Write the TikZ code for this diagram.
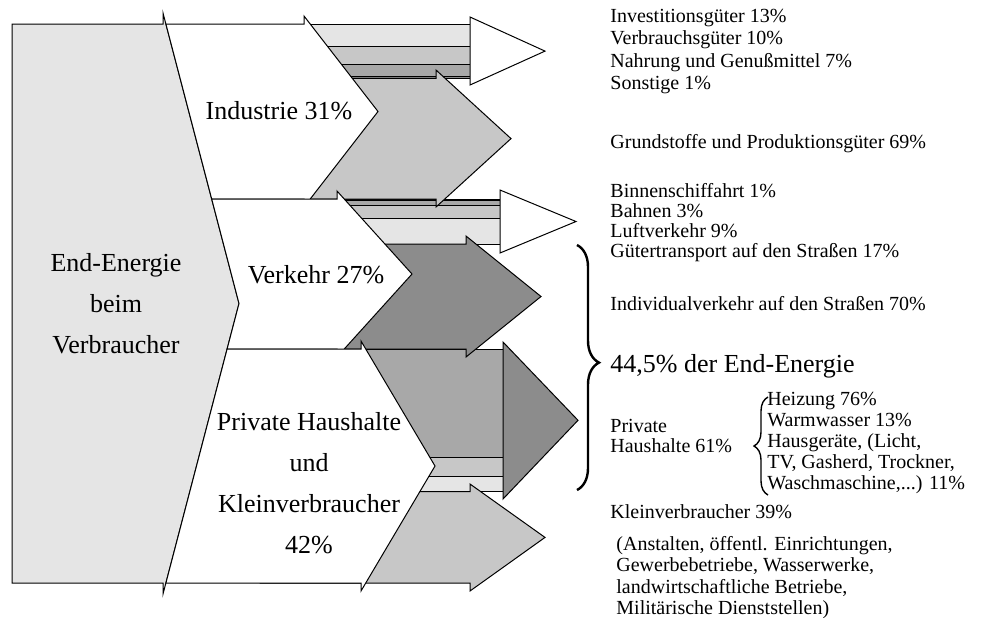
\documentclass[tikz,border=0pt]{standalone}
\usepackage{fontspec}
\setmainfont{Liberation Serif}
\usepackage{tikz}
\usetikzlibrary{decorations.pathreplacing}
\usepackage{xcolor}
\definecolor{grauA}{gray}{0.90}
\definecolor{grauB}{gray}{0.78}
\definecolor{grauC}{gray}{0.66}
\definecolor{grauD}{gray}{0.55}
\tikzset{
  outl/.style     ={draw=black, line width=0.5pt},
  hauptpfeil/.style={outl, fill=white},                 % white sector arrows
  kopf/.style     ={outl, fill=white},                  % head of a striped arrow
  bigbrace/.style ={decorate, decoration={brace, amplitude=11pt, aspect=0.48}, line width=1.2pt},
  smallbrace/.style={decorate, decoration={brace, amplitude=7pt, aspect=0.5}, line width=0.7pt},
  lbl/.style      ={font=\fontsize{10}{11.25}\selectfont, inner sep=0pt, anchor=base west, align=left}, % base = last line
  biglbl/.style   ={font=\fontsize{13}{20.5}\selectfont, inner sep=0pt, align=center},
}

\begin{document}
\begin{tikzpicture}[x=0.5pt, y=-0.5pt]
  \useasboundingbox (0,0) rectangle (994,617);

  % LEFT: end energy
  \draw[outl, fill=grauA] (12,24) -- (163,24) -- (163,13) -- (239,303.5)
    -- (163,594) -- (163,583) -- (12,583) -- cycle;

  % striped arrows
  \draw[outl, fill=grauA] (260,24)    rectangle (470,46.75);
  \draw[outl, fill=grauB] (260,46.75) rectangle (470,64.25);
  \draw[outl, fill=grauC] (260,64.25) rectangle (470,76.5);
  \draw[outl, fill=grauD] (260,76.5)  rectangle (470,78.25);
  \draw[kopf] (470,17) -- (545,51.1) -- (470,85) -- cycle;

  \draw[outl, fill=grauD] (260,199)   rectangle (500,200.5);
  \draw[outl, fill=grauC] (260,200.5) rectangle (500,205);
  \draw[outl, fill=grauB] (260,205)   rectangle (500,218.5);
  \draw[outl, fill=grauA] (260,218.5) rectangle (500,244);
  \draw[kopf] (500,190) -- (576,221.5) -- (500,253) -- cycle;

  \draw[outl, fill=grauC] (260,349)   rectangle (503,457.5);
  \draw[outl, fill=grauB] (260,457.5) rectangle (503,476);
  \draw[outl, fill=grauA] (260,476)   rectangle (503,491.7);
  \draw[kopf, fill=grauD] (503,342) -- (578,420.3) -- (503,499) -- cycle;

  % plain gray arrows
  \draw[outl, fill=grauB] (260,78.25) -- (436,78.25) -- (436,70) -- (511,138.6)
    -- (436,207) -- (436,199) -- (260,199) -- cycle;
  \draw[outl, fill=grauD] (260,244) -- (466,244) -- (466,236) -- (541,296.5)
    -- (466,357) -- (466,349) -- (260,349) -- cycle;
  \draw[outl, fill=grauB] (260,491.7) -- (470,491.7) -- (470,484) -- (545,537.4)
    -- (470,591) -- (470,583) -- (260,583) -- cycle;

  % white sector arrows on top
  \draw[hauptpfeil] (165.9,24) -- (304,24) -- (304,16) -- (378,111.5)
    -- (304,207) -- (304,199) -- (211.7,199) -- cycle;
  \draw[hauptpfeil] (211.7,199) -- (337,199) -- (337,191) -- (412,274)
    -- (337,357) -- (337,349) -- (227.1,349) -- (239,303.5) -- cycle;
  \draw[hauptpfeil] (227.1,349) -- (361,349) -- (361,341) -- (435,466)
    -- (361,591) -- (361,583) -- (165.9,583) -- cycle;

  \node[biglbl] (quelle) at (116,304) {End-Energie\\beim\\Verbraucher};
  \node[biglbl] (lind)   at (279,111) {Industrie 31\%};
  \node[biglbl] (lverk)  at (316,275) {Verkehr 27\%};
  \node[biglbl] (lhh)    at (309,483) {Private Haushalte\\und\\Kleinverbraucher\\42\%};

  % RIGHT: shares
  \draw[bigbrace]   (577,245) -- (577,490);
  \draw[smallbrace] (768,495) -- (768,397);

  \node[lbl] (ind) at (610,89.5)
    {Investitionsgüter 13\%\\Verbrauchsgüter 10\%\\Nahrung und Genußmittel 7\%\\Sonstige 1\%};
  \node[lbl] (grund) at (610,148) {Grundstoffe und Produktionsgüter 69\%};
  \node[lbl, font=\fontsize{10}{9.85}\selectfont] (verk) at (610,257)
    {Binnenschiffahrt 1\%\\Bahnen 3\%\\Luftverkehr 9\%\\Gütertransport auf den Straßen 17\%};
  \node[lbl] (indiv) at (610,310) {Individualverkehr auf den Straßen 70\%};
  \node[biglbl, anchor=base west] (anteil) at (610,372) {44,5\% der End-Energie};
  \node[lbl, font=\fontsize{10}{10}\selectfont] (phh) at (610,452) {Private\\Haushalte 61\%};
  \node[lbl, font=\fontsize{10}{10.5}\selectfont] (hhteile) at (767,489)
    {Heizung 76\%\\Warmwasser 13\%\\Hausgeräte, (Licht,\\TV, Gasherd, Trockner,\\Waschmaschine,...) 11\%};
  \node[lbl] (klein) at (610,518) {Kleinverbraucher 39\%};
  \node[lbl, font=\fontsize{10}{10.75}\selectfont] (anst) at (616,614.5)
    {(Anstalten, öffentl. Einrichtungen,\\Gewerbebetriebe, Wasserwerke,\\landwirtschaftliche Betriebe,\\Militärische Dienststellen)};
\end{tikzpicture}
\end{document}
